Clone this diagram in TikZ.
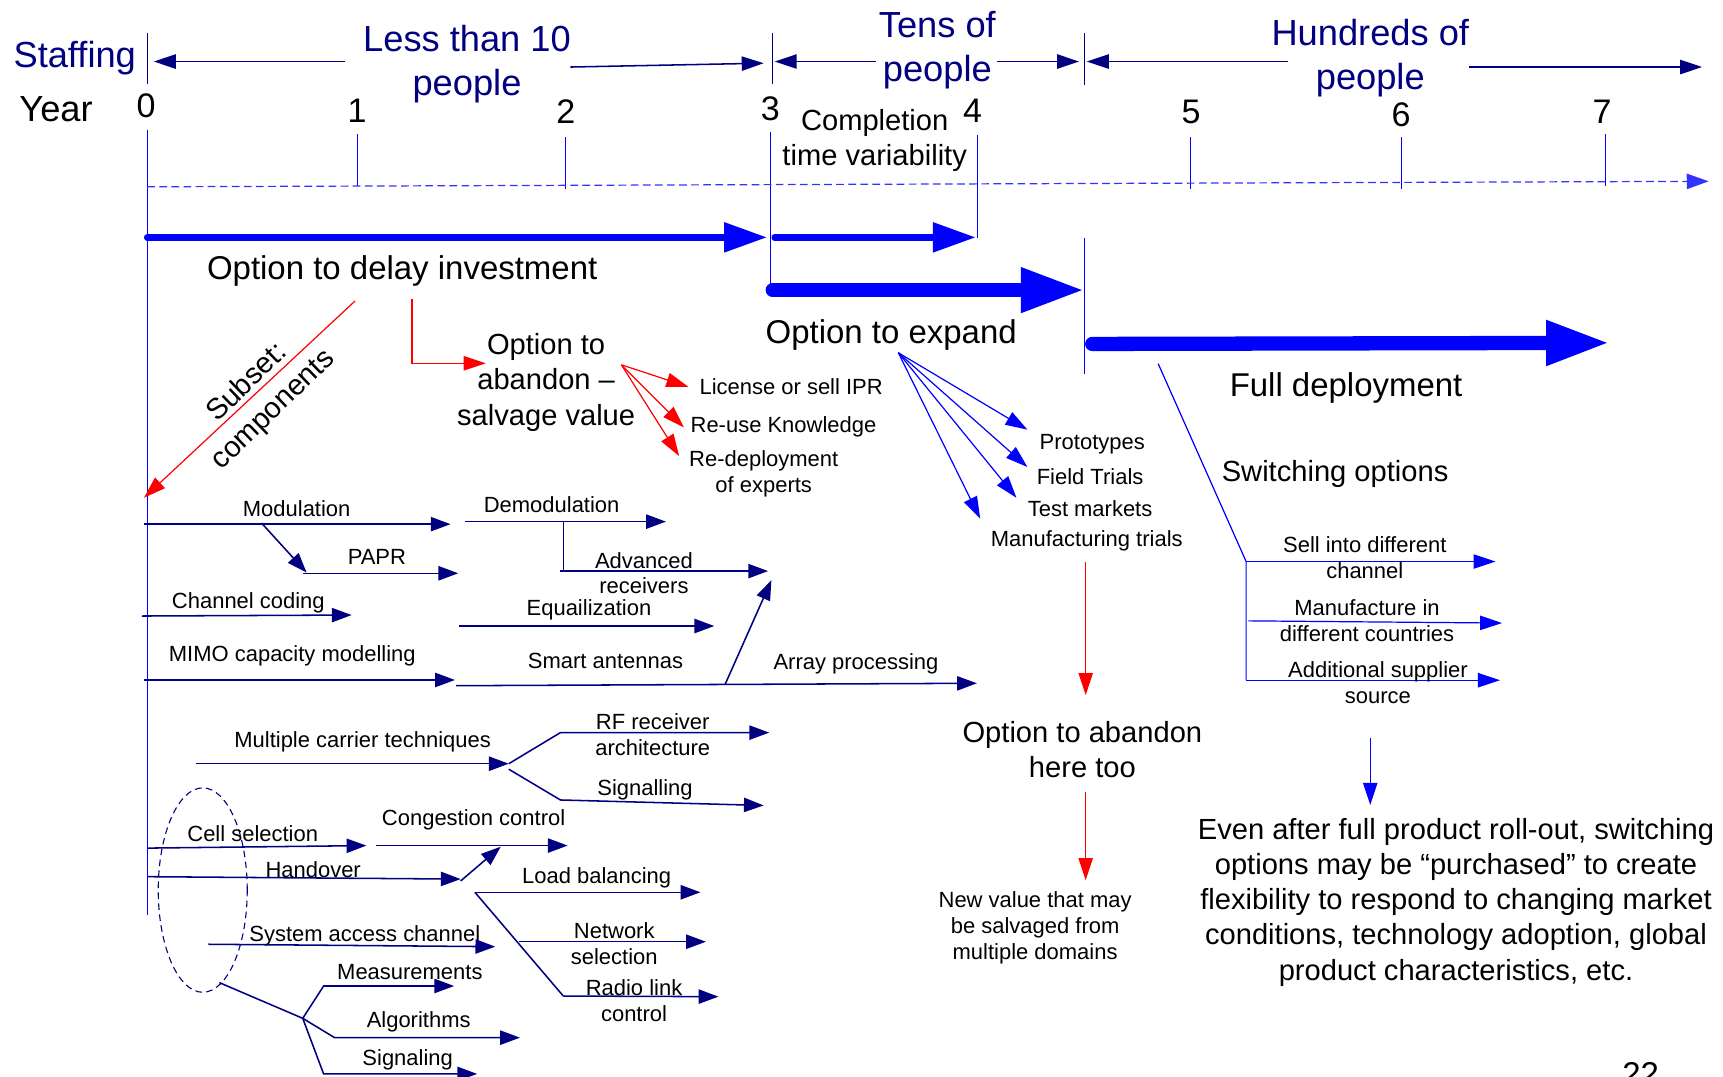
\documentclass[tikz,border=0pt]{standalone}
\usepackage{fontspec}
\setmainfont{Liberation Sans}
\usetikzlibrary{arrows.meta}
\definecolor{navyc}{RGB}{0,0,128}
\definecolor{blu}{RGB}{0,0,255}
\definecolor{axisb}{RGB}{51,51,255}
\definecolor{redc}{RGB}{255,0,0}
\tikzset{
  nv/.style={draw=navyc, line width=1.4pt},
  nva/.style={nv, -{Triangle[length=18pt,width=13pt]}},
  rd/.style={draw=redc, line width=1.1pt},
  rda/.style={rd, -{Triangle[length=20pt,width=13pt]}},
  bl/.style={draw=blu, line width=1.1pt},
  bla/.style={bl, -{Triangle[length=20pt,width=13pt]}},
  stf/.style={draw=navyc, line width=1.4pt, -{Triangle[length=20pt,width=13pt]}},
  sep/.style={draw=navyc, line width=1pt},
  tk/.style={draw=blu, line width=0.9pt},
  thickA/.style={draw=blu, line width=6pt, line cap=round, -{Triangle[length=39pt,width=26pt]}},
  thickB/.style={draw=blu, line width=12.5pt, line cap=round, -{Triangle[length=58pt,width=38pt]}},
  lbl/.style={inner sep=0pt, align=center},
  stl/.style={lbl, text=navyc, font=\fontsize{33}{40}\selectfont, yshift=-3pt},
  bigb/.style={lbl, font=\fontsize{33}{40}\selectfont, yshift=-1pt},
  numb/.style={lbl, font=\fontsize{31}{36}\selectfont},
  big/.style={lbl, font=\fontsize{30}{36}\selectfont, yshift=-3pt},
  mid/.style={lbl, font=\fontsize{26.5}{32}\selectfont, yshift=-3pt},
  sm/.style={lbl, font=\fontsize{20}{23.5}\selectfont, yshift=-1.5pt},
  rot/.style={lbl, font=\fontsize{26.5}{34}\selectfont, rotate=44},
}
\begin{document}
\begin{tikzpicture}[x=1pt,y=-1pt]
\useasboundingbox (0,0) rectangle (1568,980);
\clip (0,0) rectangle (1568,980);

% ---------- staffing row ----------
\node[stl] (staff) at (68,50) {Staffing};
\node[stl] (less) at (425,55) {Less than 10\\people};
\node[stl] (tens) at (853,43) {Tens of\\people};
\node[stl] (hund) at (1247,50) {Hundreds of\\people};
\coordinate (sp0a) at (134,30);  \coordinate (sp0b) at (134,76);
\coordinate (sp3a) at (703,30);  \coordinate (sp3b) at (703,76);
\coordinate (sp4a) at (987,30);  \coordinate (sp4b) at (987,77);
\draw[sep] (sp0a) -- (sp0b);
\draw[sep] (sp3a) -- (sp3b);
\draw[sep] (sp4a) -- (sp4b);
\coordinate (a1s) at (314,56);  \coordinate (a1e) at (140,56);
\coordinate (a2s) at (519,61);  \coordinate (a2e) at (695,57.5);
\coordinate (a3s) at (797,56);  \coordinate (a3e) at (705,56);
\coordinate (a4s) at (907,56);  \coordinate (a4e) at (982,56);
\coordinate (a5s) at (1172,56); \coordinate (a5e) at (989,56);
\coordinate (a6s) at (1337,61); \coordinate (a6e) at (1549,61);
\foreach \i in {1,...,6} \draw[stf] (a\i s) -- (a\i e);

% ---------- year row ----------
\node[bigb] (year) at (51,98) {Year};
\foreach \n/\x/\y in {0/133/96,1/325/101,2/515/102,3/701/99,4/885/101,5/1084/102,6/1275/104,7/1458/102}
  \node[numb] (yr\n) at (\x,\y) {\n};
\coordinate (t0a) at (134,118); \coordinate (t0b) at (134,833);
\coordinate (t1a) at (325,122); \coordinate (t1b) at (325,169);
\coordinate (t2a) at (515,125); \coordinate (t2b) at (515,172);
\coordinate (t3a) at (701,120); \coordinate (t3b) at (701,262);
\coordinate (t4a) at (890,123); \coordinate (t4b) at (890,217);
\coordinate (t9a) at (987,217); \coordinate (t9b) at (987,340);
\coordinate (t5a) at (1083,125); \coordinate (t5b) at (1083,172);
\coordinate (t6a) at (1275,125); \coordinate (t6b) at (1275,172);
\coordinate (t7a) at (1461,122); \coordinate (t7b) at (1461,169);
\foreach \i in {0,1,2,3,4,9,5,6,7} \draw[tk] (t\i a) -- (t\i b);
\coordinate (axs) at (134,170); \coordinate (axe) at (1555,165);
\draw[draw=axisb, line width=1.1pt, dash pattern=on 7pt off 4pt, -{Triangle[length=20pt,width=14pt]}] (axs) -- (axe);

\node[mid] (compl) at (796,125) {Completion\\time variability};

% ---------- thick arrows ----------
\coordinate (d1s) at (134,216); \coordinate (d1e) at (698,216);
\coordinate (d2s) at (705,216); \coordinate (d2e) at (888,216);
\coordinate (e1s) at (703,264); \coordinate (e1e) at (987,264);
\coordinate (f1s) at (994,313); \coordinate (f1e) at (1465,312);
\draw[thickA] (d1s) -- (d1e);
\draw[thickA] (d2s) -- (d2e);
\draw[thickB] (e1s) -- (e1e);
\draw[thickB, line width=13pt] (f1s) -- (f1e);

\node[big] (delay) at (366,244) {Option to delay investment};
\node[big] (expand) at (811,302) {Option to expand};
\node[big] (full) at (1225,350) {Full deployment};
\node[mid] (switch) at (1215,428) {Switching options};

% ---------- abandon (red) ----------
\node[mid] (aband) at (497,345) {Option to\\abandon –\\salvage value};
\node[sm] (lic) at (720,350) {License or sell IPR};
\node[sm] (reuse) at (713,387) {Re-use Knowledge};
\node[sm] (redep) at (695,430) {Re-deployment\\of experts};
\node[rot] (subset) at (237,361) {Subset:\\components};
\coordinate (r1s) at (323,274); \coordinate (r1e) at (131,453);
\draw[rda] (r1s) -- (r1e);
\coordinate (r2s) at (375,272); \coordinate (r2m) at (375,330.6); \coordinate (r2e) at (442,330.6);
\draw[rda] (r2s) -- (r2m) -- (r2e);
\coordinate (r3o) at (565.5,332);
\coordinate (r3a) at (626.4,352); \coordinate (r3b) at (622.4,389); \coordinate (r3c) at (618,415);
\draw[rda] (r3o) -- (r3a);
\draw[rda] (r3o) -- (r3b);
\draw[rda] (r3o) -- (r3c);

% ---------- expand (blue) ----------
\node[sm] (proto) at (994,403) {Prototypes};
\node[sm] (field) at (992,432) {Field Trials};
\node[sm] (test) at (992,461) {Test markets};
\node[sm] (manu) at (989,491) {Manufacturing trials};
\coordinate (bo) at (817.5,321);
\coordinate (b1) at (935,391); \coordinate (b2) at (935,425);
\coordinate (b3) at (925,453); \coordinate (b4) at (892,472);
\foreach \i in {1,...,4} \draw[bla] (bo) -- (b\i);

\coordinate (r4s) at (988,511); \coordinate (r4e) at (988,632.5);
\draw[rda] (r4s) -- (r4e);
\node[mid] (aband2) at (985,679) {Option to abandon\\here too};
\coordinate (r5s) at (988,721); \coordinate (r5e) at (988,801);
\draw[rda] (r5s) -- (r5e);
\node[sm] (newval) at (942,843) {New value that may\\be salvaged from\\multiple domains};

% ---------- switching (blue) ----------
\coordinate (sw0) at (1054,331); \coordinate (sw1) at (1134,511); \coordinate (sw2) at (1134,619);
\draw[bl] (sw0) -- (sw1) -- (sw2);
\coordinate (sw1e) at (1361,511);
\coordinate (sw3s) at (1136,565); \coordinate (sw3e) at (1367,567);
\coordinate (sw2e) at (1365,619);
\draw[bla] (sw1) -- (sw1e);
\draw[bla] (sw3s) -- (sw3e);
\draw[bla] (sw2) -- (sw2e);
\node[sm] (sell) at (1242,506) {Sell into different\\channel};
\node[sm] (mfc) at (1244,563) {Manufacture in\\different countries};
\node[sm] (addl) at (1254,620) {Additional supplier\\source};
\coordinate (dws) at (1247,672); \coordinate (dwe) at (1247,732.5);
\draw[bla] (dws) -- (dwe);
\node[mid] (even) at (1325,818) {Even after full product roll-out, switching\\options may be “purchased” to create\\flexibility to respond to changing market\\conditions, technology adoption, global\\product characteristics, etc.};
\node[big] (pg) at (1493,974) {22};

% ---------- components (navy) ----------
\node[sm] (modl) at (270,461) {Modulation};
\coordinate (m1s) at (131,477); \coordinate (m1e) at (410,477);
\draw[nva] (m1s) -- (m1e);
\coordinate (p1s) at (238,476); \coordinate (p1e) at (279,521);
\draw[nva] (p1s) -- (p1e);
\node[sm] (papr) at (343,505) {PAPR};
\coordinate (p2s) at (276,521.7); \coordinate (p2e) at (417,521.7);
\draw[nva] (p2s) -- (p2e);
\node[sm] (demod) at (502,458) {Demodulation};
\coordinate (dm1s) at (423,474.7); \coordinate (dm1e) at (606,474.7);
\draw[nva] (dm1s) -- (dm1e);
\coordinate (dv1) at (513,474.7); \coordinate (dv2) at (513,519.7);
\draw[nv] (dv1) -- (dv2);
\coordinate (adv1) at (510,519.7); \coordinate (adv2) at (699,519.7);
\draw[nva] (adv1) -- (adv2);
\node[sm] (advr) at (586,520) {Advanced\\receivers};
\node[sm] (chc) at (226,547) {Channel coding};
\coordinate (cc1) at (129,560.6); \coordinate (cc2) at (320,559.7);
\draw[nva] (cc1) -- (cc2);
\node[sm] (equ) at (536,553) {Equailization};
\coordinate (eq1) at (418,569.7); \coordinate (eq2) at (650,569.7);
\draw[nva] (eq1) -- (eq2);
\node[sm] (mimo) at (266,595) {MIMO capacity modelling};
\coordinate (mi1) at (131,618.8); \coordinate (mi2) at (414,618.8);
\draw[nva] (mi1) -- (mi2);
\node[sm] (smart) at (551,600) {Smart antennas};
\node[sm] (array) at (779,603) {Array processing};
\coordinate (sa1) at (415,624); \coordinate (sa2) at (889,621.8);
\draw[nva] (sa1) -- (sa2);
\coordinate (br1) at (660,622.5); \coordinate (br2) at (702,528);
\draw[nva] (br1) -- (br2);

\node[sm] (mct) at (330,674) {Multiple carrier techniques};
\coordinate (mc1) at (178,695); \coordinate (mc2) at (463,695);
\draw[nva] (mc1) -- (mc2);
\coordinate (rf0) at (463,695); \coordinate (rf1) at (510,666.7); \coordinate (rf2) at (700,666.7);
\draw[nva] (rf0) -- (rf1) -- (rf2);
\node[sm] (rfr) at (594,667) {RF receiver\\architecture};
\coordinate (sg0) at (463,700); \coordinate (sg1) at (510,728); \coordinate (sg2) at (695,733);
\draw[nva] (sg0) -- (sg1) -- (sg2);
\node[sm] (sigl) at (587,717) {Signalling};

\draw[draw=navyc, line width=1pt, dash pattern=on 6pt off 4pt] (184.5,810) ellipse [x radius=40.5pt, y radius=93pt];
\coordinate (ell) at (199.6,894.2);

\node[sm] (cells) at (230,757) {Cell selection};
\coordinate (cs1) at (134,771.8); \coordinate (cs2) at (333.4,769.5);
\draw[nva] (cs1) -- (cs2);
\node[sm] (cong) at (431,745) {Congestion control};
\coordinate (cg1) at (342.4,769.5); \coordinate (cg2) at (516.6,769.5);
\draw[nva] (cg1) -- (cg2);
\node[sm] (hand) at (285,790) {Handover};
\coordinate (ho1) at (134,797.8); \coordinate (ho2) at (419.2,800);
\draw[nva] (ho1) -- (ho2);
\coordinate (hb1) at (419.2,801.7); \coordinate (hb2) at (455.7,770.5);
\draw[nva] (hb1) -- (hb2);
\node[sm] (load) at (543,797) {Load balancing};
\coordinate (lb1) at (432.2,812); \coordinate (lb2) at (637.4,812);
\draw[nva] (lb1) -- (lb2);
\coordinate (lbd) at (512.6,906.4);
\draw[nv] (lb1) -- (lbd);
\node[sm] (netw) at (559,857) {Network\\selection};
\coordinate (nw1) at (472,857); \coordinate (nw2) at (642.4,857);
\draw[nva] (nw1) -- (nw2);
\node[sm] (radio) at (577,909) {Radio link\\control};
\coordinate (rl2) at (653.8,907);
\draw[nva] (lbd) -- (rl2);
\node[sm] (sysa) at (332,850) {System access channel};
\coordinate (sy1) at (189.7,859.3); \coordinate (sy2) at (450.7,861.5);
\draw[nva] (sy1) -- (sy2);
\coordinate (fk) at (275.5,926.7);
\draw[nv] (ell) -- (fk);
\coordinate (ms1) at (294.5,897.3); \coordinate (ms2) at (413.3,897.3);
\coordinate (al1) at (304.5,944.3); \coordinate (al2) at (473.2,944.3);
\coordinate (sn1) at (294.5,977.3); \coordinate (sn2) at (434.2,977.3);
\draw[nva] (fk) -- (ms1) -- (ms2);
\draw[nva] (fk) -- (al1) -- (al2);
\draw[nva] (fk) -- (sn1) -- (sn2);
\node[sm] (meas) at (373,883) {Measurements};
\node[sm] (algo) at (381,928) {Algorithms};
\node[sm] (sign) at (371,963) {Signaling};
\end{tikzpicture}
\end{document}
